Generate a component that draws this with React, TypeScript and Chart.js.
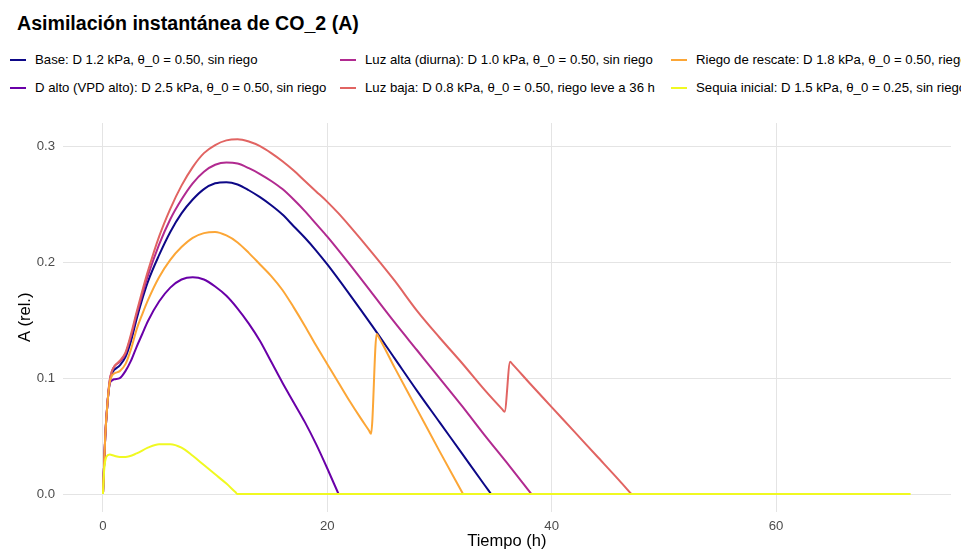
import React, { useEffect, useRef } from "react";
import { Chart, registerables } from "chart.js";

Chart.register(...registerables);

// ---- Data ----
const baseT = [0, 0.2, 0.4, 0.6, 0.8, 1, 1.5, 2, 2.5, 3, 3.5, 4, 5, 6, 7, 8, 9, 10, 11, 12, 13, 14, 15, 16, 17, 18, 19, 20, 22, 24, 26, 28, 30, 32, 34, 34.6];
const baseA = [0, 0.049, 0.078, 0.096, 0.104, 0.107, 0.111, 0.118, 0.132, 0.151, 0.168, 0.183, 0.206, 0.226, 0.242, 0.254, 0.263, 0.268, 0.269, 0.267, 0.262, 0.256, 0.249, 0.241, 0.231, 0.221, 0.21, 0.198, 0.172, 0.145, 0.117, 0.089, 0.062, 0.035, 0.008, 0];

const dAltoT = [0, 0.2, 0.4, 0.6, 0.8, 1, 1.5, 2, 2.5, 3, 3.5, 4, 5, 6, 7, 8, 9, 10, 11, 12, 13, 14, 15, 16, 17, 18, 19, 20, 21];
const dAltoA = [0, 0.049, 0.078, 0.095, 0.098, 0.099, 0.1, 0.106, 0.115, 0.127, 0.138, 0.149, 0.166, 0.178, 0.185, 0.187, 0.185, 0.179, 0.171, 0.16, 0.147, 0.132, 0.114, 0.096, 0.079, 0.062, 0.043, 0.022, 0];

const luzAltaT = [0, 0.2, 0.4, 0.6, 0.8, 1, 1.5, 2, 2.5, 3, 3.5, 4, 5, 6, 7, 8, 9, 10, 11, 12, 13, 14, 15, 16, 17, 18, 19, 20, 22, 24, 26, 28, 30, 32, 34, 36, 38.2];
const luzAltaA = [0, 0.05, 0.079, 0.098, 0.106, 0.11, 0.114, 0.121, 0.136, 0.155, 0.172, 0.188, 0.215, 0.237, 0.254, 0.268, 0.278, 0.284, 0.286, 0.285, 0.281, 0.276, 0.27, 0.263, 0.254, 0.244, 0.233, 0.222, 0.198, 0.173, 0.148, 0.124, 0.1, 0.076, 0.051, 0.027, 0];

const luzBajaT = [0, 0.2, 0.4, 0.6, 0.8, 1, 1.5, 2, 2.5, 3, 3.5, 4, 5, 6, 7, 8, 9, 10, 11, 12, 13, 14, 15, 16, 17, 18, 19, 20, 21, 22, 24, 26, 28, 30, 32, 34, 35.6, 35.8, 36.3, 36.5, 38, 40, 42, 44, 46, 47.1];
const luzBajaA = [0, 0.05, 0.079, 0.098, 0.106, 0.11, 0.115, 0.122, 0.138, 0.157, 0.175, 0.192, 0.222, 0.246, 0.266, 0.282, 0.294, 0.301, 0.305, 0.306, 0.304, 0.3, 0.294, 0.287, 0.279, 0.27, 0.261, 0.252, 0.242, 0.231, 0.208, 0.184, 0.158, 0.135, 0.113, 0.09, 0.073, 0.071, 0.114, 0.112, 0.096, 0.075, 0.054, 0.033, 0.012, 0];

const riegoT = [0, 0.2, 0.4, 0.6, 0.8, 1, 1.5, 2, 2.5, 3, 3.5, 4, 5, 6, 7, 8, 9, 10, 11, 12, 13, 14, 15, 16, 17, 18, 19, 20, 21, 22, 23, 23.7, 23.9, 24.4, 24.6, 26, 28, 30, 32.1];
const riegoA = [0, 0.049, 0.078, 0.096, 0.102, 0.104, 0.106, 0.112, 0.125, 0.142, 0.155, 0.167, 0.187, 0.202, 0.213, 0.221, 0.225, 0.226, 0.223, 0.217, 0.208, 0.198, 0.188, 0.176, 0.161, 0.145, 0.128, 0.112, 0.096, 0.08, 0.065, 0.055, 0.052, 0.138, 0.135, 0.109, 0.073, 0.037, 0];

const sequiaT = [0, 0.1, 0.3, 0.6, 1, 1.5, 2, 3, 4, 5, 6, 7, 8, 9, 10, 11, 11.8, 12, 72];
const sequiaA = [0, 0.02, 0.032, 0.034, 0.033, 0.032, 0.032, 0.035, 0.04, 0.043, 0.043, 0.04, 0.033, 0.025, 0.017, 0.009, 0.0017, 0, 0];

const seriesLabels = [
  "Base: D 1.2 kPa, θ_0 = 0.50, sin riego",
  "D alto (VPD alto): D 2.5 kPa, θ_0 = 0.50, sin riego",
  "Luz alta (diurna): D 1.0 kPa, θ_0 = 0.50, sin riego",
  "Luz baja: D 0.8 kPa, θ_0 = 0.50, riego leve a 36 h",
  "Riego de rescate: D 1.8 kPa, θ_0 = 0.50, riego fuerte a 24 h",
  "Sequia inicial: D 1.5 kPa, θ_0 = 0.25, sin riego",
];
const seriesColors = ["#0D0887", "#6A00A8", "#B12A90", "#E16462", "#FCA636", "#F0F921"];
const seriesT = [baseT, dAltoT, luzAltaT, luzBajaT, riegoT, sequiaT];
const seriesA = [baseA, dAltoA, luzAltaA, luzBajaA, riegoA, sequiaA];

const xTicks = [0, 20, 40, 60];
const yTicks = [0, 0.1, 0.2, 0.3];

const FONT = "'Liberation Sans', Arial, sans-serif";

// legend positions (column-major, 2 rows)
const legendCols = [10, 340, 671];
const legendRows = [60, 88];

export default function App() {
  const canvasRef = useRef<HTMLCanvasElement | null>(null);

  useEffect(() => {
    if (!canvasRef.current) return;
    const datasets = seriesLabels.map((label, i) => ({
      label,
      data: seriesT[i].map((t, j) => ({ x: t, y: seriesA[i][j] })),
      borderColor: seriesColors[i],
      backgroundColor: seriesColors[i],
      borderWidth: 2,
      pointRadius: 0,
      fill: false,
      cubicInterpolationMode: "monotone" as const,
      borderJoinStyle: "round" as const,
      order: seriesLabels.length - 1 - i,
    }));
    const chart = new Chart(canvasRef.current, {
      type: "line",
      data: { datasets },
      options: {
        animation: false,
        responsive: false,
        maintainAspectRatio: false,
        layout: { padding: { left: 0, right: 10, top: 23, bottom: 0 } },
        plugins: { legend: { display: false }, tooltip: { enabled: false }, title: { display: false } },
        scales: {
          x: {
            type: "linear",
            min: -3.6,
            max: 75.6,
            afterFit: (s: any) => { s.height = 38.3; },
            afterBuildTicks: (s: any) => { s.ticks = xTicks.map((v) => ({ value: v })); },
            grid: { color: "#E4E4E4", lineWidth: 1, drawTicks: false },
            border: { display: false },
            ticks: {
              color: "#4D4D4D",
              font: { family: FONT, size: 13.2 },
              padding: 7,
              maxRotation: 0,
              callback: (v: any) => String(v),
            },
            title: {
              display: true,
              text: "Tiempo (h)",
              color: "#000",
              font: { family: FONT, size: 16.5, lineHeight: 1.0 },
              padding: { top: 0, bottom: 0 },
            },
          },
          y: {
            type: "linear",
            min: -0.01525,
            max: 0.32,
            afterFit: (s: any) => { s.width = 62.6; },
            afterBuildTicks: (s: any) => { s.ticks = yTicks.map((v) => ({ value: v })); },
            grid: { color: "#E4E4E4", lineWidth: 1, drawTicks: false },
            border: { display: false },
            ticks: {
              color: "#4D4D4D",
              font: { family: FONT, size: 13.2 },
              padding: 7.6,
              callback: (v: any) => Number(v).toFixed(1),
            },
            title: {
              display: true,
              text: "A (rel.)",
              color: "#000",
              font: { family: FONT, size: 16.5, lineHeight: 1.0 },
              padding: { top: 17, bottom: 0 },
            },
          },
        },
      },
    });
    return () => chart.destroy();
  }, []);

  return (
    <div
      style={{
        position: "fixed",
        left: 0,
        top: 0,
        width: 961,
        height: 550,
        background: "#fff",
        overflow: "hidden",
        fontFamily: FONT,
      }}
    >
      <div
        style={{
          position: "absolute",
          left: 17,
          top: 11,
          fontSize: 19.6,
          lineHeight: "24px",
          fontWeight: "bold",
          color: "#000",
          whiteSpace: "nowrap",
        }}
      >
        Asimilación instantánea de CO_2 (A)
      </div>
      {seriesLabels.map((label, i) => {
        const col = Math.floor(i / 2);
        const row = i % 2;
        const left = legendCols[col];
        const cy = legendRows[row];
        return (
          <div
            key={label}
            style={{
              position: "absolute",
              left,
              top: cy - 10,
              height: 20,
              display: "flex",
              alignItems: "center",
              whiteSpace: "nowrap",
            }}
          >
            <div style={{ width: 16, height: 2, background: seriesColors[i] }} />
            <span style={{ marginLeft: 9, fontSize: 13.2, color: "#000", lineHeight: "20px" }}>{label}</span>
          </div>
        );
      })}
      <canvas
        ref={canvasRef}
        width={961}
        height={450}
        style={{ position: "absolute", left: 0, top: 100, width: 961, height: 450 }}
      />
    </div>
  );
}
